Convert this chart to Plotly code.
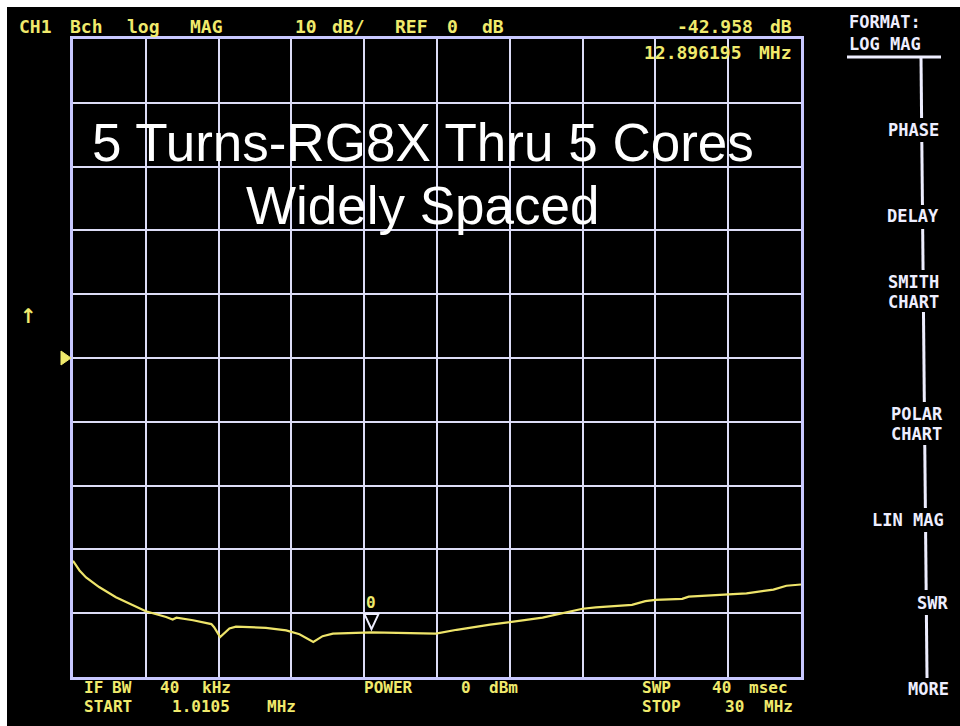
import plotly.graph_objects as go

# ---------------- data ----------------
freq_mhz = [1.01, 1.27, 1.53, 2.05, 2.72, 3.39, 3.91, 4.72, 4.98, 5.13, 5.79, 6.52,
            6.63, 6.87, 7.24, 7.50, 8.69, 9.50, 10.03, 10.58, 10.95, 11.36, 12.49,
            12.90, 15.46, 16.29, 17.62, 18.40, 19.71, 21.30, 21.83, 23.27, 23.80,
            24.20, 25.27, 25.53, 27.10, 27.83, 28.90, 29.42, 30.0]
mag_db = [-31.8, -33.3, -34.4, -35.9, -37.5, -38.8, -39.7, -40.6, -41.0, -40.7, -41.1, -41.7,
          -42.2, -43.75, -42.4, -42.1, -42.3, -42.7, -43.3, -44.5, -43.6, -43.2, -43.1,
          -43.0, -43.2, -42.6, -41.8, -41.4, -40.7, -39.3, -39.1, -38.7, -38.1,
          -37.9, -37.75, -37.4, -37.1, -36.9, -36.3, -35.7, -35.5]

start_mhz = 1.0105
stop_mhz = 30.0
ref_db = 0
scale_db = 10
n_div = 10
marker_freq = 12.896195
marker_db = -42.958

header_words = ["CH1", "Bch", "log", "MAG", "10", "dB/", "REF", "0", "dB"]
marker_words = ["-42.958", "dB", "12.896195", "MHz"]
menu_labels = ["FORMAT:", "LOG MAG", "PHASE", "DELAY", "SMITH", "CHART",
               "POLAR", "CHART", "LIN MAG", "SWR", "MORE"]
footer_words = ["IF", "BW", "40", "kHz", "START", "1.0105", "MHz",
                "POWER", "0", "dBm", "SWP", "40", "msec", "STOP", "30", "MHz"]
title_lines = ["5 Turns-RG8X Thru 5 Cores", "Widely Spaced"]

# ---------------- layout geometry ----------------
W, H = 960, 726
L, R, T, B = 73, 159, 39, 49
PW = W - L - R
PH = H - T - B

def pxx(x):
    return (x - L) / PW

def pyy(y):
    return (H - B - y) / PH

YEL = "#f0ea6c"
WHT = "#eeeeff"
GRID = "#dcdcf6"
CRT = "DejaVu Sans Mono"

fig = go.Figure()
fig.add_trace(go.Scatter(x=freq_mhz, y=mag_db, mode="lines",
                         line=dict(color="#eee46a", width=2.2), hoverinfo="skip",
                         showlegend=False))

ann = []

def txt(s, x, y, color=YEL, size=18, xa="left", family=CRT, bold=True):
    ann.append(dict(text=("<b>%s</b>" % s) if bold else s, x=pxx(x), y=pyy(y),
                    xref="paper", yref="paper", xanchor=xa, yanchor="middle",
                    showarrow=False, font=dict(family=family, size=size, color=color)))

# header
hx = [17, 68, 125, 188, 293, 330, 393, 445, 480]
for w, x in zip(header_words, hx):
    txt(w, x, 27)
# marker readout
txt(marker_words[0], 755, 27, xa="right")
txt(marker_words[1], 794, 27, xa="right")
txt(marker_words[2], 744, 52, xa="right")
txt(marker_words[3], 794, 52, xa="right")

# menu
txt(menu_labels[0], 847, 22, color=WHT, size=17)
txt(menu_labels[1], 847, 44, color=WHT, size=17)
menu_pos = [(941, 130), (941, 216), (941, 282), (941, 302), (945, 414), (944, 434),
            (946, 520), (950, 603), (951, 689)]
for w, (x, y) in zip(menu_labels[2:], menu_pos):
    txt(w, x, y, color=WHT, xa="right", size=17)

# footer
fpos = [(82, 687), (110, 687), (158, 687), (200, 687),
        (82, 706), (170, 706), (265, 706),
        (362, 687), (459, 687), (487, 687),
        (640, 687), (710, 687), (747, 687),
        (640, 706), (723, 706), (762, 706)]
for w, (x, y) in zip(footer_words, fpos):
    txt(w, x, y, size=16)

# title overlay
txt(title_lines[0], 423, 143, color="white", size=53, xa="center",
    family="Liberation Sans, Arial", bold=False)
txt(title_lines[1], 423, 205, color="white", size=53, xa="center",
    family="Liberation Sans, Arial", bold=False)

# left indicator arrow
txt("↑", 28, 316, size=20, xa="center", family="DejaVu Sans")

# marker number
ann.append(dict(text="<b>0</b>", x=marker_freq, y=marker_db, xref="x", yref="y",
                yshift=30, showarrow=False,
                font=dict(family=CRT, size=16, color=YEL)))

shapes = []
# black screen
shapes.append(dict(type="rect", xref="paper", yref="paper", x0=pxx(7), x1=pxx(W + 5),
                   y0=pyy(H + 5), y1=pyy(7), fillcolor="black", line=dict(width=0),
                   layer="below"))
# menu underline
shapes.append(dict(type="line", xref="paper", yref="paper", x0=pxx(847), x1=pxx(941),
                   y0=pyy(57), y1=pyy(57), line=dict(color=WHT, width=3)))
# menu vertical line segments
for y0, y1 in [(57, 118), (142, 205), (229, 270), (312, 402), (445, 508),
               (532, 590), (615, 678)]:
    xa = 921 + (y0 - 57) / 620 * 6
    xb = 921 + (y1 - 57) / 620 * 6
    shapes.append(dict(type="line", xref="paper", yref="paper", x0=pxx(xa), x1=pxx(xb),
                       y0=pyy(y0), y1=pyy(y1), line=dict(color=WHT, width=3)))
# marker triangle
shapes.append(dict(type="path", xref="x", yref="y", xsizemode="pixel", ysizemode="pixel",
                   xanchor=marker_freq, yanchor=marker_db,
                   path="M -7,18 L 7,18 L 0,3 Z", line=dict(color=WHT, width=2)))
# reference-position triangle
shapes.append(dict(type="path", xref="paper", yref="y", xsizemode="pixel", ysizemode="pixel",
                   xanchor=0, yanchor=ref_db,
                   path="M -12,7 L -12,-7 L -2,0 Z", fillcolor=YEL,
                   line=dict(color=YEL, width=1)))

fig.update_layout(
    width=W, height=H, margin=dict(l=L, r=R, t=T, b=B),
    paper_bgcolor="white", plot_bgcolor="black",
    annotations=ann, shapes=shapes, showlegend=False,
    xaxis=dict(range=[start_mhz, stop_mhz], tick0=start_mhz,
               dtick=(stop_mhz - start_mhz) / n_div, showgrid=True, gridcolor=GRID,
               gridwidth=2, zeroline=False, showticklabels=False, ticks="",
               showline=True, mirror=True, linecolor="#c8c8ff", linewidth=3,
               fixedrange=True),
    yaxis=dict(range=[ref_db - scale_db * n_div / 2, ref_db + scale_db * n_div / 2],
               tick0=ref_db, dtick=scale_db, showgrid=True, gridcolor=GRID,
               gridwidth=2, zeroline=False, showticklabels=False, ticks="",
               showline=True, mirror=True, linecolor="#c8c8ff", linewidth=3,
               fixedrange=True),
)

fig.write_html("out.html", config=dict(displayModeBar=False),
               post_script="document.body.style.margin='0';document.body.style.overflow='hidden';")
